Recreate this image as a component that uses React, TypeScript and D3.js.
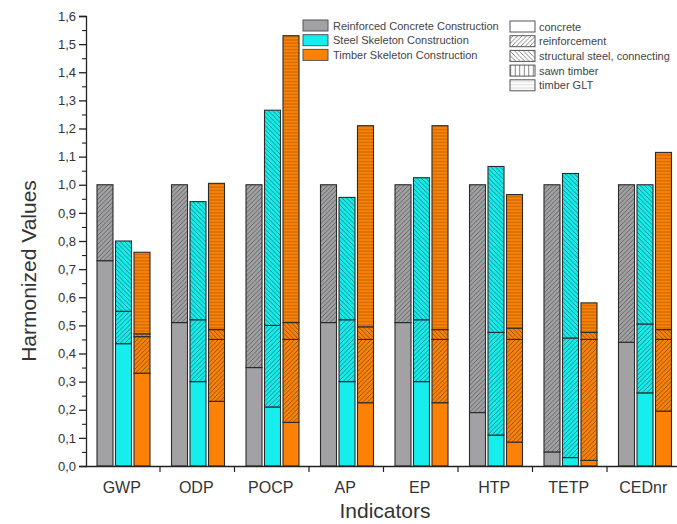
import React, { useEffect, useRef } from "react";
import * as d3 from "d3";

// indicadores (eje x)
const indicators = ["GWP", "ODP", "POCP", "AP", "EP", "HTP", "TETP", "CEDnr"];

// Reinforced Concrete Construction
const rcConcrete = [0.73, 0.51, 0.35, 0.51, 0.51, 0.19, 0.05, 0.44];
const rcReinforcement = [0.27, 0.49, 0.65, 0.49, 0.49, 0.81, 0.95, 0.56];

// Steel Skeleton Construction
const ssConcrete = [0.435, 0.3, 0.21, 0.3, 0.3, 0.11, 0.03, 0.26];
const ssReinforcement = [0.115, 0.22, 0.29, 0.22, 0.22, 0.365, 0.425, 0.245];
const ssSteel = [0.25, 0.42, 0.765, 0.435, 0.505, 0.59, 0.585, 0.495];

// Timber Skeleton Construction
const tsConcrete = [0.33, 0.23, 0.155, 0.225, 0.225, 0.085, 0.02, 0.195];
const tsReinforcement = [0.13, 0.22, 0.295, 0.225, 0.225, 0.365, 0.43, 0.255];
const tsSteel = [0.01, 0.035, 0.06, 0.045, 0.035, 0.04, 0.025, 0.035];
const tsGlt = [0.29, 0.52, 1.02, 0.715, 0.725, 0.475, 0.105, 0.63];

const yTicks = [0, 0.1, 0.2, 0.3, 0.4, 0.5, 0.6, 0.7, 0.8, 0.9, 1.0, 1.1, 1.2, 1.3, 1.4, 1.5, 1.6];

const materialNames = [
  ["concrete", "concrete"],
  ["reinforcement", "reinforcement"],
  ["steel", "structural steel, connecting"],
  ["sawn", "sawn timber"],
  ["glt", "timber GLT"],
];

const constructions = [
  {
    key: "rc",
    name: "Reinforced Concrete Construction",
    color: "#a2a2a4",
    parts: [["concrete", rcConcrete], ["reinforcement", rcReinforcement]],
  },
  {
    key: "ss",
    name: "Steel Skeleton Construction",
    color: "#16eeee",
    parts: [["concrete", ssConcrete], ["reinforcement", ssReinforcement], ["steel", ssSteel]],
  },
  {
    key: "ts",
    name: "Timber Skeleton Construction",
    color: "#fb8206",
    parts: [["concrete", tsConcrete], ["reinforcement", tsReinforcement], ["steel", tsSteel], ["glt", tsGlt]],
  },
];

const FONT = "'Liberation Sans', Arial, sans-serif";

// patrones de relleno para cada material
function addPattern(defs, id, bg, kind, lineColor) {
  const s = kind === "glt" ? 3.2 : 4.5;
  const p = defs
    .append("pattern")
    .attr("id", id)
    .attr("patternUnits", "userSpaceOnUse")
    .attr("width", s)
    .attr("height", s);
  p.append("rect").attr("width", s).attr("height", s).attr("fill", bg);
  let d = "";
  if (kind === "reinforcement") {
    d = `M0,${s} L${s},0 M${-s / 2},${s / 2} L${s / 2},${-s / 2} M${s / 2},${s * 1.5} L${s * 1.5},${s / 2}`;
  } else if (kind === "steel") {
    d = `M0,0 L${s},${s} M${-s / 2},${s / 2} L${s / 2},${s * 1.5} M${s / 2},${-s / 2} L${s * 1.5},${s / 2}`;
  } else if (kind === "sawn") {
    d = `M${s / 2},0 L${s / 2},${s}`;
  } else if (kind === "glt") {
    d = `M0,${s / 2} L${s},${s / 2}`;
  }
  if (d) {
    p.append("path")
      .attr("d", d)
      .attr("stroke", lineColor)
      .attr("stroke-width", kind === "glt" ? 0.7 : 0.9)
      .attr("fill", "none");
  }
}

const Chart = () => {
  const ref = useRef(null);

  useEffect(() => {
    d3.select(ref.current).selectAll("*").remove();

    const width = 677;
    const height = 524;
    const x0 = 85.5;
    const step = 74.5;
    const yBottom = 466;
    const yTop = 16;

    const svg = d3
      .select(ref.current)
      .append("svg")
      .attr("width", width)
      .attr("height", height)
      .style("position", "absolute")
      .style("left", 0)
      .style("top", 0)
      .style("background", "#fff");

    const defs = svg.append("defs");

    const x = d3
      .scaleBand()
      .domain(indicators)
      .range([x0, x0 + step * indicators.length]);
    const xs = d3
      .scaleBand()
      .domain(constructions.map((c) => c.key))
      .range([11.5, 64.5])
      .paddingInner(0.135);
    const y = d3.scaleLinear().domain([0, 1.6]).range([yBottom, yTop]);

    constructions.forEach((c) => {
      ["concrete", "reinforcement", "steel", "glt"].forEach((m) => {
        addPattern(defs, `p-${c.key}-${m}`, c.color, m, m === "glt" ? "rgba(60,30,0,0.45)" : "rgba(30,30,30,0.55)");
      });
    });
    materialNames.forEach(([m]) => {
      addPattern(defs, `p-legend-${m}`, "#fff", m, m === "glt" ? "#ccc" : "#777");
    });

    // barras apiladas
    constructions.forEach((c) => {
      const g = svg.append("g");
      indicators.forEach((ind, i) => {
        let acc = 0;
        c.parts.forEach(([m, vals]) => {
          const v = vals[i];
          const y1 = y(acc);
          const y2 = y(acc + v);
          acc += v;
          g.append("rect")
            .attr("x", x(ind) + xs(c.key))
            .attr("y", y2)
            .attr("width", xs.bandwidth())
            .attr("height", y1 - y2)
            .attr("fill", m === "concrete" ? c.color : `url(#p-${c.key}-${m})`)
            .attr("stroke", "#2a2a2a")
            .attr("stroke-width", 1.1);
        });
      });
    });

    // eje y
    const fmt = d3.format(".1f");
    const yAxis = svg
      .append("g")
      .attr("transform", `translate(${x0 + 0.5},0)`)
      .call(
        d3
          .axisLeft(y)
          .tickValues(yTicks)
          .tickSize(7)
          .tickPadding(3)
          .tickFormat((d) => fmt(d).replace(".", ","))
      );
    yAxis.attr("font-family", FONT).attr("font-size", 13);
    yAxis.selectAll("text").attr("fill", "#333");
    yAxis.selectAll("line, path").attr("stroke", "#222").attr("stroke-width", 1.3);

    const minor = svg
      .append("g")
      .attr("transform", `translate(${x0 + 0.5},0)`)
      .call(
        d3
          .axisLeft(y)
          .tickValues(yTicks.slice(1).map((t) => t - 0.05))
          .tickSize(4)
          .tickFormat(() => "")
      );
    minor.select(".domain").remove();
    minor.selectAll("line").attr("stroke", "#222").attr("stroke-width", 1.1);

    // eje x
    svg
      .append("line")
      .attr("x1", x0)
      .attr("x2", width)
      .attr("y1", yBottom + 0.5)
      .attr("y2", yBottom + 0.5)
      .attr("stroke", "#222")
      .attr("stroke-width", 1.4);

    indicators.slice(1).forEach((ind) => {
      svg
        .append("line")
        .attr("x1", x(ind))
        .attr("x2", x(ind))
        .attr("y1", yBottom)
        .attr("y2", yBottom + 6)
        .attr("stroke", "#222")
        .attr("stroke-width", 1.2);
    });

    svg
      .append("g")
      .selectAll("text")
      .data(indicators)
      .enter()
      .append("text")
      .attr("x", (d) => x(d) + x.bandwidth() / 2 - 1)
      .attr("y", 493)
      .attr("text-anchor", "middle")
      .attr("font-family", FONT)
      .attr("font-size", 16)
      .attr("fill", "#333")
      .text((d) => d);

    // títulos de ejes
    svg
      .append("text")
      .attr("x", 385)
      .attr("y", 518)
      .attr("text-anchor", "middle")
      .attr("font-family", FONT)
      .attr("font-size", 21)
      .attr("fill", "#333")
      .text("Indicators");

    svg
      .append("text")
      .attr("transform", `translate(36,271) rotate(-90)`)
      .attr("text-anchor", "middle")
      .attr("font-family", FONT)
      .attr("font-size", 21)
      .attr("fill", "#333")
      .text("Harmonized Values");

    // leyenda
    const leg = svg.append("g").attr("font-family", FONT).attr("font-size", 11).attr("fill", "#444");
    constructions.forEach((c, i) => {
      const ly = 20 + i * 14.7;
      leg.append("rect")
        .attr("x", 303)
        .attr("y", ly)
        .attr("width", 25)
        .attr("height", 11)
        .attr("fill", c.color)
        .attr("stroke", "#555")
        .attr("stroke-width", 1);
      leg.append("text").attr("x", 333).attr("y", ly + 9.5).text(c.name);
    });
    materialNames.forEach(([m, label], i) => {
      const ly = 21 + i * 14.7;
      leg.append("rect")
        .attr("x", 510)
        .attr("y", ly)
        .attr("width", 25)
        .attr("height", 11)
        .attr("fill", m === "concrete" ? "#fff" : `url(#p-legend-${m})`)
        .attr("stroke", "#555")
        .attr("stroke-width", 1);
      leg.append("text").attr("x", 539).attr("y", ly + 9.5).text(label);
    });
  }, []);

  return <div ref={ref}></div>;
};

export default function App() {
  return <Chart />;
}
